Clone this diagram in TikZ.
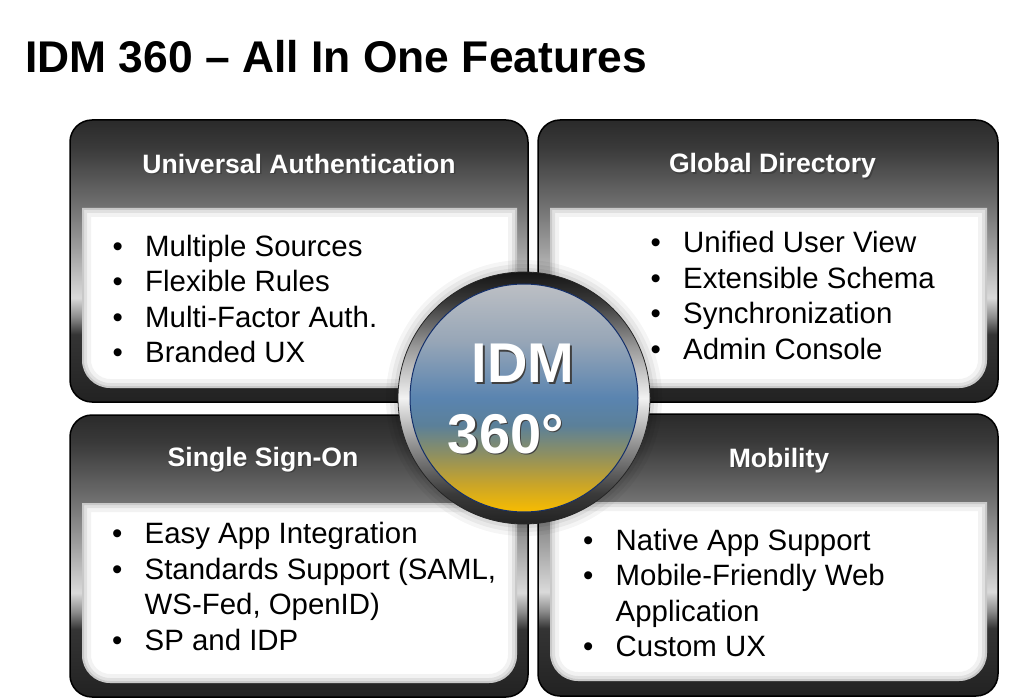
\documentclass[tikz,border=0pt]{standalone}
\usepackage{fontspec}
\setmainfont{Liberation Sans}
\usetikzlibrary{shapes, arrows}

\definecolor{molduraA}{HTML}{2A2A2A}
\definecolor{molduraB}{HTML}{3A3A3A}
\definecolor{molduraC}{HTML}{727272}
\definecolor{molduraD}{HTML}{9C9C9C}
\definecolor{molduraE}{HTML}{DADADA}
\definecolor{molduraF}{HTML}{8A8A8A}
\definecolor{molduraG}{HTML}{343434}
\definecolor{molduraH}{HTML}{222222}
\definecolor{anelA}{HTML}{151515}
\definecolor{anelB}{HTML}{3A3A3A}
\definecolor{anelC}{HTML}{9A9A9A}
\definecolor{anelD}{HTML}{F2F2F2}
\definecolor{anelE}{HTML}{8A8A8A}
\definecolor{anelF}{HTML}{3A3A3A}
\definecolor{anelG}{HTML}{222222}
\definecolor{discoA}{HTML}{BCBFC4}
\definecolor{discoB}{HTML}{97A6B7}
\definecolor{discoC}{HTML}{5A84B0}
\definecolor{discoD}{HTML}{5B8099}
\definecolor{discoE}{HTML}{8F9060}
\definecolor{discoF}{HTML}{CAA528}
\definecolor{discoG}{HTML}{F8BC00}
\definecolor{azulborda}{HTML}{142F6A}

\pgfdeclareverticalshading{moldura}{100bp}{color(0bp)=(molduraH); color(25bp)=(molduraH); color(37bp)=(molduraG); color(40bp)=(molduraF); color(43.5bp)=(molduraE); color(52.5bp)=(molduraD); color(59.5bp)=(molduraC); color(70bp)=(molduraB); color(75bp)=(molduraA); color(100bp)=(molduraA)}
\pgfdeclareverticalshading{anel}{100bp}{color(0bp)=(anelG); color(25bp)=(anelG); color(31bp)=(anelF); color(40bp)=(anelE); color(50bp)=(anelD); color(60bp)=(anelC); color(69bp)=(anelB); color(75bp)=(anelA); color(100bp)=(anelA)}
\pgfdeclareverticalshading{disco}{100bp}{color(0bp)=(discoG); color(25bp)=(discoG); color(31bp)=(discoF); color(37.5bp)=(discoE); color(44bp)=(discoD); color(50bp)=(discoC); color(62.5bp)=(discoB); color(75bp)=(discoA); color(100bp)=(discoA)}

\tikzstyle{painel} = [rectangle, draw=black, line width=1.5pt, rounded corners=22pt, shading=moldura]
\tikzstyle{titulo} = [inner sep=0pt, anchor=base west, font=\bfseries\fontsize{44.4}{50}\selectfont]
\tikzstyle{cabecalho} = [text=white, inner sep=0pt, anchor=base, font=\bfseries\fontsize{26.6}{32}\selectfont]
\tikzstyle{lista} = [inner sep=0pt, anchor=base west, align=left, font=\fontsize{29.4}{35.4}\selectfont]
\tikzstyle{logo} = [text=white, inner sep=0pt, anchor=base west, font=\bfseries\fontsize{56}{60}\selectfont]

\newcommand{\topico}[1]{\makebox[32.5pt][l]{\textbullet}#1}
\newcommand{\recuo}[1]{\hspace*{32.5pt}#1}
\newcommand{\sombra}[1]{\makebox[0pt][l]{\hspace*{1.5pt}\raisebox{-1.5pt}{\textcolor{black!75}{#1}}}#1}
\newcommand{\formamiolo}[4]{(#1,#2) -- (#3,#2) -- (#3,#4-28) arc[start angle=0, end angle=90, radius=28] -- (#1+28,#4) arc[start angle=90, end angle=180, radius=28] -- cycle}
\newcommand{\miolo}[4]{%
  \fill[white] \formamiolo{#1}{#2}{#3}{#4};
  \begin{scope}
    \clip \formamiolo{#1}{#2}{#3}{#4};
    \draw[black, opacity=0.05, line width=18pt] \formamiolo{#1}{#2}{#3}{#4};
    \draw[black, opacity=0.07, line width=10pt] \formamiolo{#1}{#2}{#3}{#4};
    \draw[black, opacity=0.10, line width=4pt] \formamiolo{#1}{#2}{#3}{#4};
  \end{scope}}

\begin{document}
\begin{tikzpicture}[x=1pt, y=-1pt] %eixo y para baixo, medidas em pontos

\useasboundingbox (0,0) rectangle (1024,700);
\fill[white] (0,0) rectangle (1024,700);

%---------------------------------------------
%Titulo da pagina
%---------------------------------------------
\node [titulo] (titulo) at (25,72.3) {IDM 360 – All In One Features};

%---------------------------------------------
%Os quatro paineis com moldura escura
%---------------------------------------------
\node [painel, minimum width=458pt, minimum height=282pt] (painelUA) at (299,261) {};
\node [painel, minimum width=460pt, minimum height=282pt] (painelGD) at (768,261) {};
\node [painel, minimum width=458pt, minimum height=282pt] (painelSSO) at (299,556) {};
\node [painel, minimum width=460pt, minimum height=282pt] (painelMOB) at (768,555) {};

%area branca de cada painel
\miolo{82}{208}{517}{388}
\miolo{550}{208}{987}{388}
\miolo{82}{503}{517}{683}
\miolo{550}{502}{987}{681}

%---------------------------------------------
%Cabecalhos e listas (base = ultima linha)
%---------------------------------------------
\node [cabecalho] (cabUA) at (299,173.3) {\sombra{Universal Authentication}};
\node [cabecalho] (cabGD) at (772.5,173) {\sombra{Global Directory}};
\node [cabecalho] (cabSSO) at (263,466) {\sombra{Single Sign-On}};
\node [cabecalho] (cabMOB) at (779,467) {\sombra{Mobility}};

\node [lista] (listaUA) at (112.5,362.5) {\topico{Multiple Sources}\\ \topico{Flexible Rules}\\ \topico{Multi-Factor Auth.}\\ \topico{Branded UX}};
\node [lista] (listaGD) at (650.5,359) {\topico{Unified User View}\\ \topico{Extensible Schema}\\ \topico{Synchronization}\\ \topico{Admin Console}};
\node [lista] (listaSSO) at (112,650) {\topico{Easy App Integration}\\ \topico{Standards Support (SAML,}\\ \recuo{WS-Fed, OpenID)}\\ \topico{SP and IDP}};
\node [lista] (listaMOB) at (583,656.5) {\topico{Native App Support}\\ \topico{Mobile-Friendly Web}\\ \recuo{Application}\\ \topico{Custom UX}};

%---------------------------------------------
%Circulo central
%---------------------------------------------
\foreach \r/\o in {138/0.04, 134/0.05, 130/0.06}
  \fill[black, opacity=\o] (524,398) circle (\r);
\node [circle, minimum size=252pt, inner sep=0pt, shading=anel, draw=black!85, line width=0.8pt] (anel) at (524,398) {};
\node [circle, minimum size=228pt, inner sep=0pt, shading=disco, draw=azulborda, line width=1pt] (disco) at (anel.center) {};
\node [logo] (idm) at (471.5,382.7) {\sombra{IDM}};
\node [logo] (graus) at (447.7,453.3) {\sombra{360°}};

\end{tikzpicture}
\end{document}
